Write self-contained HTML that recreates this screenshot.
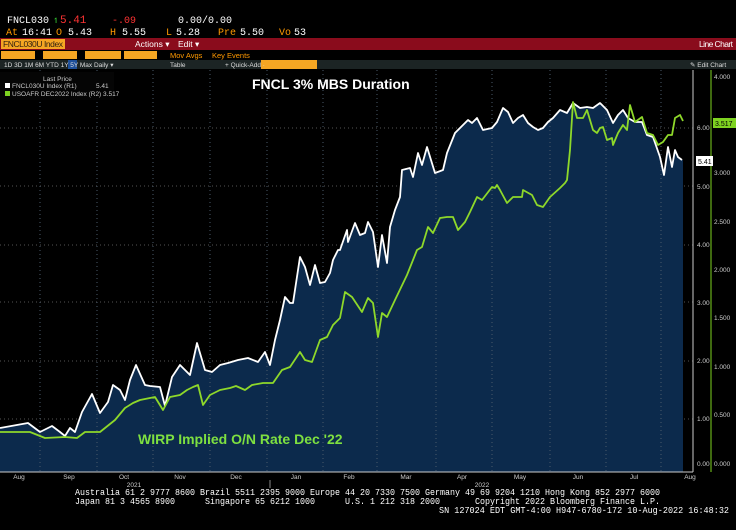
<!DOCTYPE html>
<html><head><meta charset="utf-8"><style>
html,body{margin:0;padding:0;background:#000;width:736px;height:530px;overflow:hidden}
svg{display:block}
.m{font-family:"Liberation Mono",monospace}
.s{font-family:"Liberation Sans",sans-serif}
</style></head><body>
<svg width="736" height="530" viewBox="0 0 736 530" xmlns="http://www.w3.org/2000/svg">
<rect width="736" height="530" fill="#000"/>
<g class="m" font-size="10">
<text x="7" y="23" fill="#fff">FNCL030</text>
<text x="53" y="23" fill="#3c3">↿</text>
<text x="60" y="23" fill="#f33" font-size="11">5.41</text>
<text x="112" y="23" fill="#f33">-.09</text>
<text x="178" y="23" fill="#fff">0.00</text><text x="202" y="23" fill="#fff">/0.00</text>
<text x="6" y="35" fill="#f90">At</text><text x="22" y="35" fill="#fff">16:41</text>
<text x="56" y="35" fill="#f90">O</text><text x="68" y="35" fill="#fff">5.43</text>
<text x="110" y="35" fill="#f90">H</text><text x="122" y="35" fill="#fff">5.55</text>
<text x="166" y="35" fill="#f90">L</text><text x="176" y="35" fill="#fff">5.28</text>
<text x="218" y="35" fill="#f90">Pre</text><text x="240" y="35" fill="#fff">5.50</text>
<text x="279" y="35" fill="#f90">Vo</text><text x="294" y="35" fill="#fff">53</text>
</g>
<rect x="0" y="38" width="736" height="12" fill="#8a0c1c"/>
<rect x="1" y="39" width="64" height="10" fill="#f5a623"/>
<g class="s" font-size="8.5">
<text x="3" y="47" fill="#321" textLength="60">FNCL030U Index</text>
<text x="135" y="47" fill="#fff">Actions ▾</text>
<text x="178" y="47" fill="#fff">Edit ▾</text>
<text x="699" y="47" fill="#fff" textLength="34">Line Chart</text>
</g>
<rect x="1" y="51" width="34" height="8" fill="#f5a623"/>
<rect x="43" y="51" width="34" height="8" fill="#f5a623"/>
<rect x="85" y="51" width="36" height="8" fill="#f5a623"/>
<rect x="124" y="51" width="33" height="8" fill="#f5a623"/>
<g class="s" font-size="7.5" fill="#f90">
<text x="170" y="58">Mov Avgs</text><text x="212" y="58">Key Events</text>
</g>
<rect x="0" y="60" width="736" height="9" fill="#1c2424"/>
<rect x="68" y="60" width="9" height="9" fill="#1d4f9a"/>
<rect x="261" y="60" width="56" height="9" fill="#f5a623"/>
<g class="s" font-size="6.5" fill="#ddd">
<text x="4" y="67">1D   3D   1M   6M   YTD   1Y   5Y   Max   Daily ▾</text>
<text x="170" y="67">Table</text>
<text x="225" y="67">+ Quick-Add ·</text>
<text x="690" y="67">✎ Edit Chart</text>
</g>
<g stroke="#555" stroke-dasharray="1,3" stroke-width="1">
<line x1="0" y1="128" x2="693" y2="128"/><line x1="0" y1="186" x2="693" y2="186"/>
<line x1="0" y1="245" x2="693" y2="245"/><line x1="0" y1="302" x2="693" y2="302"/>
<line x1="0" y1="361" x2="693" y2="361"/><line x1="0" y1="419" x2="693" y2="419"/>
</g>
<polygon fill="#0c2a4c" points="0,472 0,428 28,423 40,432 52,426 60,432 65,436 70,428 75,432 82,412 92,394 100,413 108,402 113,385 120,390 125,400 130,380 136,365 145,385 150,386 160,387 165,406 172,377 180,365 190,375 197,343 205,370 212,372 220,365 228,363 238,360 248,358 258,362 265,352 270,365 275,340 280,320 285,297 290,303 293,303 300,257 305,267 310,285 315,265 320,283 325,282 330,273 333,260 338,250 340,250 347,230 348,242 355,223 360,235 365,233 368,222 373,232 378,267 382,235 387,263 390,227 395,210 400,197 402,170 410,168 413,177 418,153 422,165 427,147 435,173 443,170 447,153 455,133 463,125 468,120 472,123 477,118 483,130 492,128 497,122 503,108 508,112 513,123 518,118 523,115 528,123 533,127 538,130 543,128 548,122 553,118 560,110 567,113 573,103 580,108 587,107 593,108 600,103 607,110 613,123 618,115 623,110 628,118 635,122 642,122 647,135 653,137 660,157 664,175 668,147 672,167 675,150 678,157 682,160 683,160 683,472"/>
<g stroke="#4a5a6a" stroke-dasharray="1,3" stroke-width="1">
<line x1="40" y1="70" x2="40" y2="472"/><line x1="97" y1="70" x2="97" y2="472"/>
<line x1="153" y1="70" x2="153" y2="472"/><line x1="210" y1="70" x2="210" y2="472"/>
<line x1="267" y1="70" x2="267" y2="472"/><line x1="323" y1="70" x2="323" y2="472"/>
<line x1="377" y1="70" x2="377" y2="472"/><line x1="436" y1="70" x2="436" y2="472"/>
<line x1="492" y1="70" x2="492" y2="472"/><line x1="550" y1="70" x2="550" y2="472"/>
<line x1="606" y1="70" x2="606" y2="472"/><line x1="661" y1="70" x2="661" y2="472"/>
</g>
<polyline fill="none" stroke="#fff" stroke-width="1.8" stroke-linejoin="round" points="0,428 28,423 40,432 52,426 60,432 65,436 70,428 75,432 82,412 92,394 100,413 108,402 113,385 120,390 125,400 130,380 136,365 145,385 150,386 160,387 165,406 172,377 180,365 190,375 197,343 205,370 212,372 220,365 228,363 238,360 248,358 258,362 265,352 270,365 275,340 280,320 285,297 290,303 293,303 300,257 305,267 310,285 315,265 320,283 325,282 330,273 333,260 338,250 340,250 347,230 348,242 355,223 360,235 365,233 368,222 373,232 378,267 382,235 387,263 390,227 395,210 400,197 402,170 410,168 413,177 418,153 422,165 427,147 435,173 443,170 447,153 455,133 463,125 468,120 472,123 477,118 483,130 492,128 497,122 503,108 508,112 513,123 518,118 523,115 528,123 533,127 538,130 543,128 548,122 553,118 560,110 567,113 573,103 580,108 587,107 593,108 600,103 607,110 613,123 618,115 623,110 628,118 635,122 642,122 647,135 653,137 660,157 664,175 668,147 672,167 675,150 678,157 682,160"/>
<polyline fill="none" stroke="#8ed82a" stroke-width="1.8" stroke-linejoin="round" points="0,432 30,432 45,438 65,437 77,438 85,432 100,432 115,420 125,408 133,403 140,400 150,398 155,397 163,410 170,397 180,395 187,390 193,387 198,385 203,405 210,395 220,390 230,388 236,386 245,390 252,385 263,383 273,383 282,370 290,367 300,352 305,360 312,362 320,340 327,337 333,325 340,318 345,292 352,297 362,312 368,298 373,303 378,337 382,313 387,317 395,300 407,275 417,250 422,247 428,227 433,233 440,218 447,217 453,217 458,230 465,222 470,212 477,197 482,200 492,187 495,188 497,185 500,190 507,203 513,197 522,197 523,190 532,195 537,205 543,207 550,197 560,188 565,183 567,180 570,150 573,102 577,118 583,118 587,110 593,130 597,133 600,128 603,127 607,140 612,138 613,145 618,133 623,125 627,130 630,105 635,122 642,117 647,133 653,135 658,145 663,142 668,135 672,135 675,118 680,115 683,121"/>
<text x="252" y="89" class="s" font-size="14" font-weight="bold" fill="#fff">FNCL 3% MBS Duration</text>
<text x="138" y="444" class="s" font-size="14" font-weight="bold" fill="#7ee040">WIRP Implied O/N Rate Dec '22</text>
<rect x="0" y="72" width="114" height="28" fill="#050505"/>
<g class="s" font-size="6.5">
<text x="43" y="81" fill="#ccc">Last Price</text>
<rect x="5" y="83" width="5" height="5" fill="#fff"/>
<text x="12" y="88" fill="#ccc">FNCL030U Index   (R1)</text><text x="96" y="88" fill="#ccc">5.41</text>
<rect x="5" y="91" width="5" height="5" fill="#7ed321"/>
<text x="12" y="96" fill="#ccc">USOAFR DEC2022 Index  (R2) 3.517</text>
</g>
<line x1="693" y1="70" x2="693" y2="472" stroke="#ccc" stroke-width="1"/>
<line x1="711" y1="70" x2="711" y2="472" stroke="#7ed321" stroke-width="1"/>
<g class="s" font-size="6.5" fill="#ccc">
<text x="697" y="130">6.00</text><text x="697" y="189">5.00</text><text x="697" y="247">4.00</text>
<text x="697" y="305">3.00</text><text x="697" y="363">2.00</text><text x="697" y="421">1.00</text><text x="697" y="466">0.00</text>
<text x="714" y="79">4.000</text><text x="714" y="175">3.000</text><text x="714" y="224">2.500</text>
<text x="714" y="272">2.000</text><text x="714" y="320">1.500</text><text x="714" y="369">1.000</text>
<text x="714" y="417">0.500</text><text x="714" y="466">0.000</text>
</g>
<rect x="696" y="156" width="17" height="10" fill="#fff"/>
<text x="698" y="164" class="s" font-size="7" fill="#000">5.41</text>
<rect x="713" y="118" width="23" height="10" fill="#7ed321"/>
<text x="715" y="126" class="s" font-size="7" fill="#000">3.517</text>
<line x1="0" y1="472" x2="693" y2="472" stroke="#ccc"/>
<g class="s" font-size="6.5" fill="#ccc" text-anchor="middle">
<text x="19" y="479">Aug</text><text x="69" y="479">Sep</text><text x="124" y="479">Oct</text>
<text x="180" y="479">Nov</text><text x="236" y="479">Dec</text><text x="296" y="479">Jan</text>
<text x="349" y="479">Feb</text><text x="406" y="479">Mar</text><text x="462" y="479">Apr</text>
<text x="520" y="479">May</text><text x="578" y="479">Jun</text><text x="634" y="479">Jul</text>
<text x="690" y="479">Aug</text>
<text x="134" y="487">2021</text><text x="482" y="487">2022</text>
</g>
<line x1="270" y1="480" x2="270" y2="488" stroke="#888"/>
<g class="m" font-size="9" fill="#fff">
<text x="75" y="495" textLength="585" lengthAdjust="spacingAndGlyphs">Australia 61 2 9777 8600 Brazil 5511 2395 9000 Europe 44 20 7330 7500 Germany 49 69 9204 1210 Hong Kong 852 2977 6000</text>
<text x="75" y="504" xml:space="preserve" textLength="585" lengthAdjust="spacingAndGlyphs">Japan 81 3 4565 8900      Singapore 65 6212 1000      U.S. 1 212 318 2000       Copyright 2022 Bloomberg Finance L.P.</text>
<text x="439" y="513" textLength="290" lengthAdjust="spacingAndGlyphs">SN 127024 EDT  GMT-4:00 H947-6780-172 10-Aug-2022 16:48:32</text>
</g>
</svg>
</body></html>
